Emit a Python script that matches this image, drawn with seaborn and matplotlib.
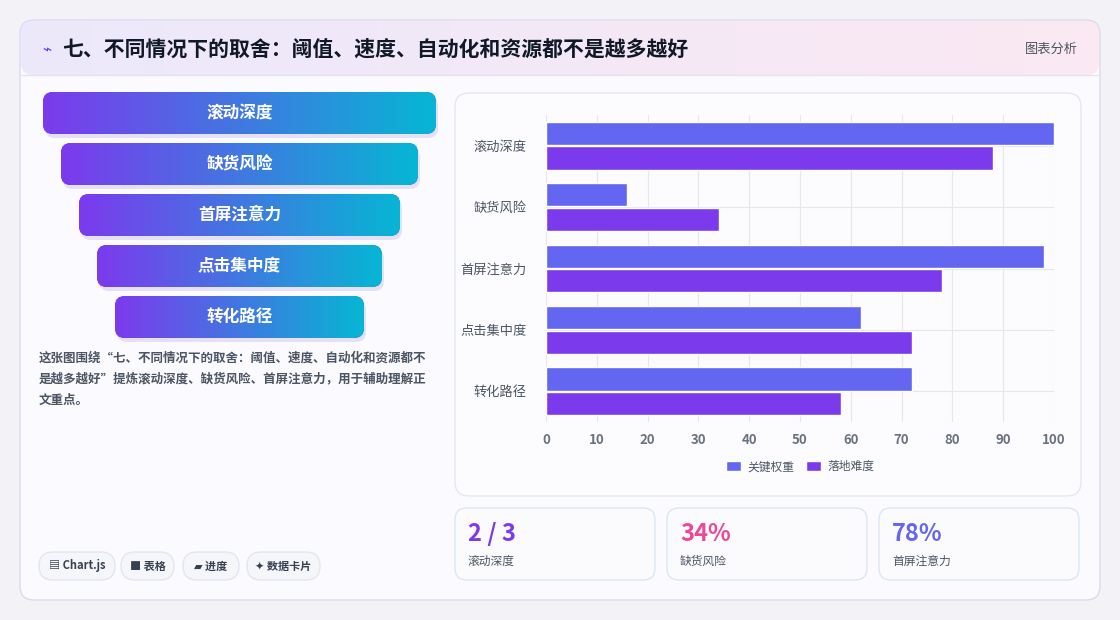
import matplotlib
matplotlib.use("Agg")
import matplotlib.pyplot as plt
import numpy as np
import pandas as pd
import seaborn as sns
from matplotlib.patches import FancyBboxPatch
from matplotlib.colors import LinearSegmentedColormap

# data
categories = ['滚动深度', '缺货风险', '首屏注意力', '点击集中度', '转化路径']
weight = [100, 16, 98, 62, 72]
difficulty = [88, 34, 78, 72, 58]
series_names = ['关键权重', '落地难度']
kpi_values = ['2 / 3', '34%', '78%']
kpi_labels = ['滚动深度', '缺货风险', '首屏注意力']
kpi_colors = ['#7c3aed', '#ec4899', '#6366f1']
tags = ['▤ Chart.js', '■ 表格', '▰ 进度', '✦ 数据卡片']
title = '七、不同情况下的取舍：阈值、速度、自动化和资源都不是越多越好'
note = ['这张图围绕“七、不同情况下的取舍：阈值、速度、自动化和资源都不',
        '是越多越好”提炼滚动深度、缺货风险、首屏注意力，用于辅助理解正',
        '文重点。']

sns.set_theme(style='whitegrid')
plt.rcParams['font.family'] = ['Noto Sans CJK SC', 'DejaVu Sans']

W, H = 1120, 620
fig = plt.figure(figsize=(11.2, 6.2), dpi=100)
fig.patch.set_facecolor('#f3f3f7')
bg = fig.add_axes([0, 0, 1, 1])
bg.set_xlim(0, W)
bg.set_ylim(H, 0)
bg.axis('off')


def rbox(x, y, w, h, r, fc, ec='none', lw=1, z=1):
    p = FancyBboxPatch((x + r, y + r), w - 2 * r, h - 2 * r,
                       boxstyle=f'round,pad={r}', fc=fc, ec=ec, lw=lw, zorder=z)
    bg.add_patch(p)
    return p


# main card
rbox(20, 20, 1080, 580, 14, '#fbfaff', ec='#ddd8f0', z=1)
hdr = rbox(21, 21, 1078, 54, 13, '#f1ecfb', z=2)
grad = LinearSegmentedColormap.from_list('h', ['#ece8fb', '#fbe8f2'])
im = bg.imshow(np.linspace(0, 1, 256)[None, :], cmap=grad, aspect='auto',
               extent=(21, 1099, 75, 21), zorder=2)
im.set_clip_path(hdr)
bg.plot([21, 1099], [75, 75], color='#e6e2f2', lw=1, zorder=3)
bg.text(42, 50, '⌁', color='#4f46e5', fontsize=11, va='center', zorder=4)
bg.text(62, 49, title, fontsize=15, fontweight='bold', color='#111827',
        va='center', zorder=4)
bg.text(1078, 49, '图表分析', fontsize=9.5, color='#4b5563', ha='right',
        va='center', zorder=4)

# funnel
fcmap = LinearSegmentedColormap.from_list('f', ['#7c3aed', '#06b6d4'])
for i, name in enumerate(categories):
    x0 = 43 + 18 * i
    w = 393 - 36 * i
    y0 = 92 + 51 * i
    rbox(x0 + 2, y0 + 4, w, 42, 10, '#e6e0f5', z=2)
    p = rbox(x0, y0, w, 42, 10, '#7c3aed', z=3)
    gi = bg.imshow(np.linspace(0, 1, 256)[None, :], cmap=fcmap, aspect='auto',
                   extent=(x0, x0 + w, y0 + 42, y0), zorder=3)
    gi.set_clip_path(p)
    bg.text(x0 + w / 2, y0 + 21, name, color='white', fontsize=12,
            fontweight='bold', ha='center', va='center', zorder=4)

for i, line in enumerate(note):
    bg.text(39, 358 + 21 * i, line, fontsize=9, fontweight='bold',
            color='#4b5563', va='center', zorder=4)

# tags
tx = [39, 121, 183, 247]
tw = [76, 53, 56, 73]
for x, w, t in zip(tx, tw, tags):
    rbox(x, 552, w, 28, 14, '#f5f6fa', ec='#e3e6ee', z=3)
    bg.text(x + w / 2, 566, t, fontsize=8, fontweight='bold', color='#374151',
            ha='center', va='center', zorder=4)

# chart card
rbox(455, 93, 626, 403, 14, '#fcfcfe', ec='#e2e8f0', z=2)

# kpi cards
for i, (v, l, c) in enumerate(zip(kpi_values, kpi_labels, kpi_colors)):
    x = 455 + 212 * i
    rbox(x, 508, 200, 72, 12, '#fbfbfe', ec='#dbe6f3', z=3)
    bg.text(x + 13, 534, v, fontsize=17, fontweight='bold', color=c,
            va='center', zorder=4)
    bg.text(x + 13, 561, l, fontsize=8.5, color='#4b5563', va='center', zorder=4)

# bar chart
df = pd.DataFrame({
    'cat': categories * 2,
    'val': weight + difficulty,
    'series': [series_names[0]] * 5 + [series_names[1]] * 5,
})
ax = fig.add_axes([546 / W, 1 - 422 / H, 508 / W, 307 / H])
ax.set_facecolor('none')
sns.barplot(data=df, y='cat', x='val', hue='series', orient='h',
            palette=['#6366f1', '#7c3aed'], width=0.8, gap=0.05,
            saturation=1, ax=ax)
ax.set_xlim(0, 100)
ax.set_xticks(range(0, 101, 10))
ax.set_xlabel('')
ax.set_ylabel('')
ax.grid(True, color='#e5e7eb', lw=0.8)
for s in ax.spines.values():
    s.set_visible(False)
ax.tick_params(axis='x', labelsize=9.5, colors='#6b7280', pad=2)
ax.tick_params(axis='y', labelsize=9.5, colors='#4b5563', pad=8)
for t in ax.get_xticklabels():
    t.set_fontweight('bold')
ax.legend(loc='upper center', bbox_to_anchor=(0.5, -0.09), ncol=2,
          frameon=False, fontsize=8.5, handlelength=1.3, handleheight=0.9,
          columnspacing=1.0, handletextpad=0.5, labelcolor='#4b5563')

fig.savefig('out.png', dpi=100, facecolor=fig.get_facecolor())
